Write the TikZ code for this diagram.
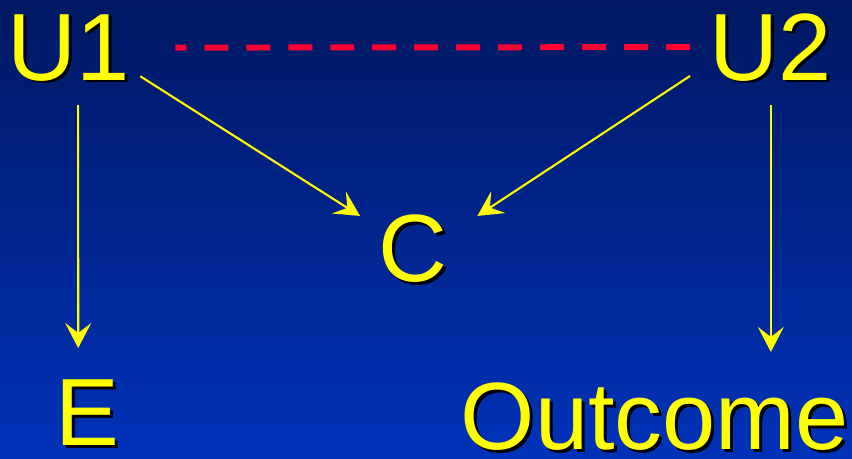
\documentclass[tikz,border=0pt]{standalone}
\usepackage{fontspec}
\setmainfont{Liberation Sans}
\usepackage{tikz}
\usetikzlibrary{arrows.meta,calc,positioning}
\definecolor{bgtop}{RGB}{0,24,98}
\definecolor{bgbot}{RGB}{0,50,185}
\definecolor{lab}{RGB}{255,255,0}
\definecolor{dsh}{RGB}{255,0,51}
\newcommand\txtshadow[1]{\rlap{\hspace{1.7pt}\raisebox{-1.7pt}{\color{black}#1}}#1}

\begin{document}
\begin{tikzpicture}[x=0.02cm,y=-0.02cm,
  lbl/.style={anchor=base west,inner sep=0pt,text=lab,font=\fontsize{54.4}{60}\selectfont},
  arr/.style={lab,line width=1.2pt,-{Stealth[length=0.5cm,width=0.52cm,inset=0.2cm]}},
  dline/.style={dsh,line width=3.4pt,dash pattern=on 0.48cm off 0.36cm,dash phase=0.26cm}]
  \useasboundingbox (0,0) rectangle (852,458);
  \shade[top color=bgtop,bottom color=bgbot] (0,0) rectangle (852,458);
  \node[lbl] (U1) at (7.4,80) {\txtshadow{U1}};
  \node[lbl] (U2) at (709.4,80) {\txtshadow{U2}};
  \node[lbl] (C) at (378,281.5) {\txtshadow{C}};
  \node[lbl] (E) at (55.4,445) {\txtshadow{E}};
  \node[lbl] (Outcome) at (460.4,449) {\txtshadow{Outcome}};
  \draw[dline] ($(U1.east)+(45,-1.5)$) -- ($(U2.west)+(-19.4,-1.5)$);
  \draw[arr] ($(U1.base)+(9.3,25)$) -- ($(E.base)+(-9.4,-97)$);
  \draw[arr] ($(U2.base)+(0,25)$) -- ($(U2.base |- Outcome.north)+(0,-30)$);
  \draw[arr] ($(U1.south east)+(10,-8)$) -- ($(C.north west)+(-18,1.5)$);
  \draw[arr] ($(U2.south west)+(-19.4,-8.3)$) -- ($(C.north east)+(29.7,1.5)$);
\end{tikzpicture}
\end{document}
